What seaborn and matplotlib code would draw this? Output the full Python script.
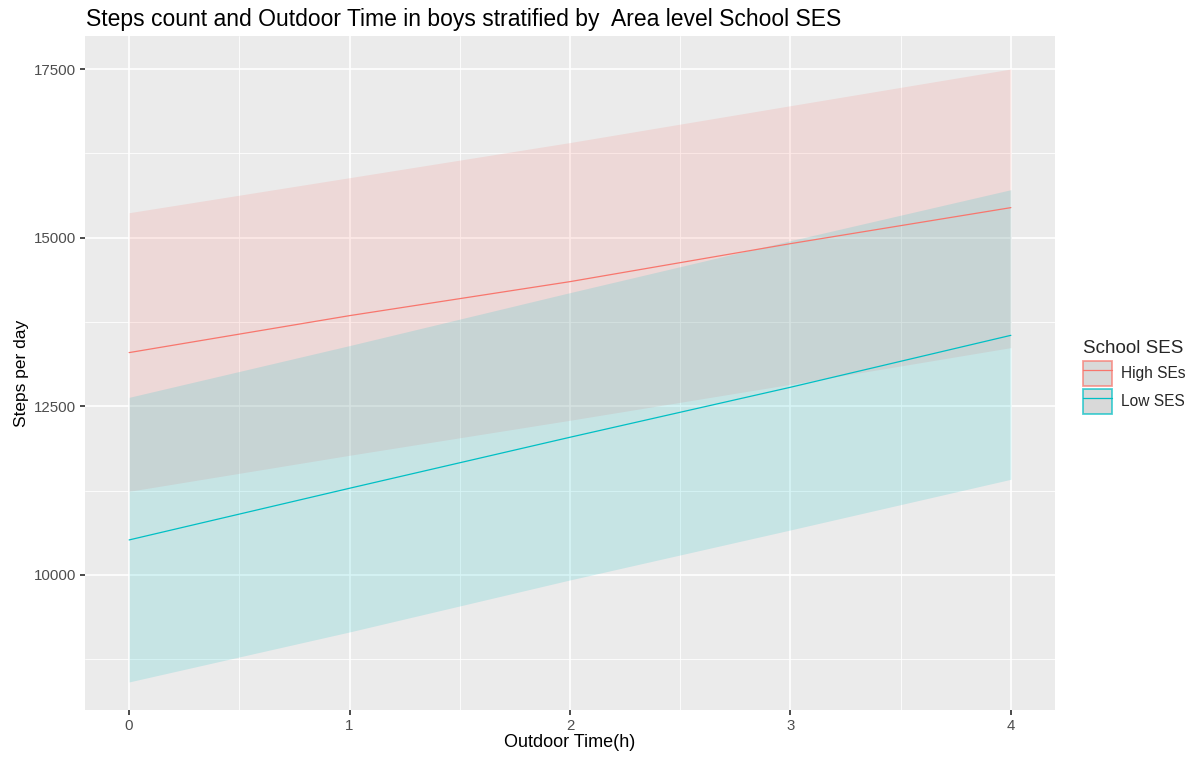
import numpy as np
import pandas as pd
import matplotlib
matplotlib.use("Agg")
import matplotlib.pyplot as plt
import seaborn as sns
from matplotlib.patches import Patch
from matplotlib.lines import Line2D
from matplotlib.ticker import MultipleLocator

# values
outdoor_time = [0, 1, 2, 3, 4]
groups = ["High SEs", "Low SES"]
high_fit = [13296, 13844, 14348, 14911, 15445]
high_upper = [15370, 15889, 16410, 16956, 17500]
high_lower = [11240, 11774, 12293, 12826, 13370]
low_fit = [10519, 11285, 12041, 12782, 13552]
low_upper = [12633, 13400, 14185, 14955, 15711]
low_lower = [8414, 9155, 9926, 10667, 11418]

colors = {"High SEs": "#F8766D", "Low SES": "#00BFC4"}

df = pd.DataFrame({
    "x": outdoor_time * 2,
    "y": high_fit + low_fit,
    "lo": high_lower + low_lower,
    "hi": high_upper + low_upper,
    "group": [groups[0]] * 5 + [groups[1]] * 5,
})

sns.set_theme(style="darkgrid", rc={
    "axes.facecolor": "#EBEBEB",
    "grid.color": "white",
})
plt.rcParams["font.family"] = ["Liberation Sans", "DejaVu Sans"]

fig = plt.figure(figsize=(12.01, 7.6), dpi=100)
ax = fig.add_axes([0.0708, 0.0658, 0.8076, 0.8868])

for g in groups:
    d = df[df["group"] == g]
    ax.fill_between(d["x"], d["lo"], d["hi"], color=colors[g], alpha=0.155,
                    linewidth=0, zorder=2)

sns.lineplot(data=df, x="x", y="y", hue="group", palette=colors, ax=ax,
             linewidth=0.9, legend=False, estimator=None, zorder=3)

ax.set_xlim(-0.2, 4.2)
ax.set_ylim(7998, 17989)
ax.xaxis.set_major_locator(MultipleLocator(1))
ax.xaxis.set_minor_locator(MultipleLocator(0.5))
ax.set_yticks([10000, 12500, 15000, 17500])
ax.yaxis.set_minor_locator(MultipleLocator(1250))
ax.grid(which="major", color="white", linewidth=1.2, zorder=1)
ax.grid(which="minor", color="white", linewidth=0.6, zorder=1)
ax.set_axisbelow(True)
for s in ax.spines.values():
    s.set_visible(False)
ax.tick_params(axis="both", which="major", length=3.5, color="#333333",
               labelsize=10.8, labelcolor="#4D4D4D", pad=3, bottom=True, left=True)
ax.tick_params(which="minor", length=0)

ax.set_xlabel("Outdoor Time(h)", fontsize=13, color="black", labelpad=1)
ax.set_ylabel("Steps per day", fontsize=12.5, color="black", labelpad=3)
fig.text(0.0715, 0.966, "Steps count and Outdoor Time in boys stratified by  Area level School SES",
         fontsize=16.5, color="black", ha="left", va="baseline")

handles = []
for g in groups:
    c = matplotlib.colors.to_rgb(colors[g])
    patch = Patch(facecolor=(0.85, 0.85, 0.85), edgecolor=c + (0.7,), linewidth=1.3)
    line = Line2D([], [], color=c, linewidth=0.9)
    handles.append((patch, line))
leg = fig.legend(handles, groups, title="School SES", loc="upper left",
                 bbox_to_anchor=(0.9017, 0.553), frameon=False, fontsize=11.2,
                 title_fontsize=13.5, handlelength=1.85, handleheight=2.1,
                 labelspacing=0.2, handletextpad=0.6, borderpad=0,
                 borderaxespad=0)
leg._legend_box.align = "left"
leg._legend_box.sep = 3

fig.savefig("out.png", dpi=100)
